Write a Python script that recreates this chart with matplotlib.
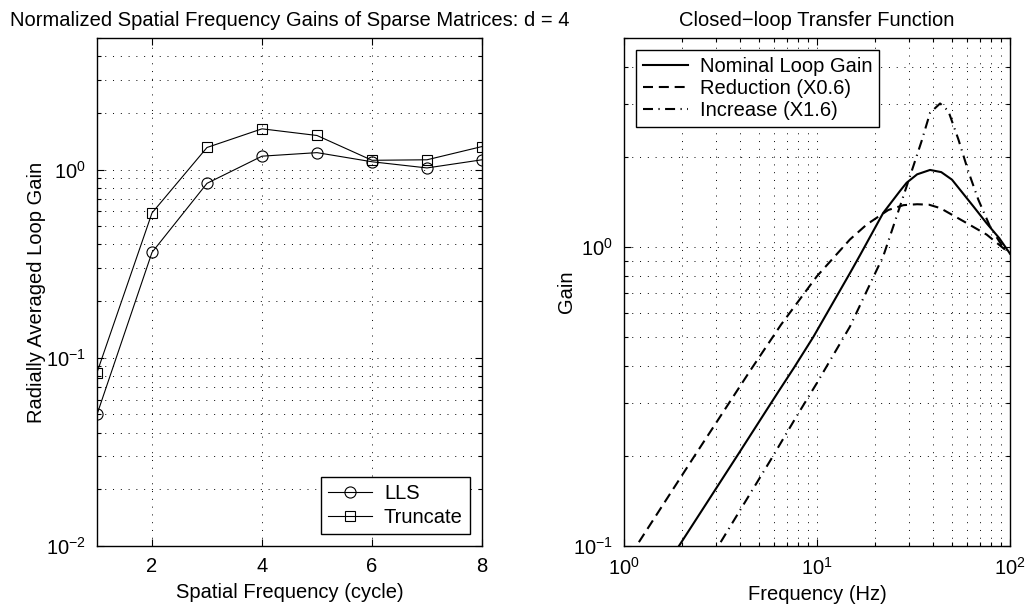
import numpy as np
import matplotlib
matplotlib.use("Agg")
import matplotlib.pyplot as plt
from matplotlib.ticker import LogLocator, NullFormatter, FixedLocator

plt.rcParams['font.family'] = ['Liberation Sans', 'DejaVu Sans']
plt.rcParams['mathtext.fontset'] = 'custom'
plt.rcParams['mathtext.rm'] = 'Liberation Sans'
plt.rcParams['mathtext.it'] = 'Liberation Sans:italic'
FS = 14.5
plt.rcParams['font.size'] = FS

# ---- Left panel data ----
spatial_freq = [1, 2, 3, 4, 5, 6, 7, 8]
lls_gain = [0.050, 0.363, 0.845, 1.178, 1.23, 1.10, 1.02, 1.127]
truncate_gain = [0.0835, 0.588, 1.31, 1.646, 1.517, 1.12, 1.127, 1.325]

# ---- Right panel data ----
nom_freq = [1.92, 3.94, 6.29, 7.59, 9.55, 14.8, 16.7, 22.0, 26.9, 29.1, 33.0,
            38.5, 44.0, 50.0, 55.0, 65.0, 75.7, 88.0, 100.0]
nom_gain = [0.100, 0.205, 0.328, 0.395, 0.50, 0.818, 0.94, 1.30, 1.54, 1.64, 1.75,
            1.81, 1.78, 1.68, 1.556, 1.36, 1.20, 1.07, 0.95]

red_freq = [1.19, 2.30, 4.52, 6.5, 9.95, 14.8, 18.1, 23.4, 28.0, 33.0, 38.0,
            43.4, 57.3, 75.7, 100.0]
red_gain = [0.103, 0.199, 0.388, 0.55, 0.797, 1.06, 1.19, 1.33, 1.38, 1.39, 1.385,
            1.35, 1.22, 1.10, 0.95]

inc_freq = [3.16, 5.74, 7.89, 9.95, 14.8, 20.4, 22.0, 24.8, 28.0, 31.5, 34.8,
            38.5, 43.4, 47.9, 54.0, 60.8, 68.5, 78.8, 90.0, 100.0]
inc_gain = [0.103, 0.194, 0.274, 0.350, 0.542, 0.84, 0.93, 1.17, 1.48, 1.86, 2.26,
            2.81, 3.02, 2.85, 2.29, 1.79, 1.44, 1.17, 1.02, 0.95]

fig = plt.figure(figsize=(10.26, 6.10), dpi=100)
W, H = 1026, 610
ax1 = fig.add_axes([97 / W, 1 - 546 / H, (482 - 97) / W, (546 - 38) / H])
ax2 = fig.add_axes([624.3 / W, 1 - 546 / H, (1010 - 624.3) / W, (546 - 38) / H])

grid_kw = dict(color='black', linestyle=(0, (1, 7)), linewidth=0.7)

def style(ax):
    ax.tick_params(which='both', direction='in', top=True, right=True,
                   width=0.8, colors='black')
    ax.tick_params(which='major', length=5, labelsize=FS, pad=8)
    ax.tick_params(which='minor', length=3)
    for s in ax.spines.values():
        s.set_linewidth(1.0)
        s.set_color('black')

# Left panel
ax1.plot(spatial_freq, lls_gain, color='black', lw=0.8, marker='o', ms=8,
         mfc='none', mec='black', mew=0.8, label='LLS')
ax1.plot(spatial_freq, truncate_gain, color='black', lw=0.8, marker='s', ms=6.5,
         mfc='none', mec='black', mew=0.8, label='Truncate')
ax1.set_yscale('log')
ax1.set_xlim(1, 8)
ax1.set_ylim(0.01, 5)
ax1.xaxis.set_major_locator(FixedLocator([2, 4, 6, 8]))
ax1.yaxis.set_major_locator(LogLocator(base=10, numticks=10))
ax1.yaxis.set_minor_locator(LogLocator(base=10, subs=np.arange(2, 10), numticks=10))
ax1.yaxis.set_minor_formatter(NullFormatter())
ax1.grid(True, which='both', **grid_kw)
ax1.set_axisbelow(True)
style(ax1)
ax1.set_xlabel('Spatial Frequency (cycle)', fontsize=FS, labelpad=5)
ax1.set_ylabel('Radially Averaged Loop Gain', fontsize=FS, labelpad=0)
ax1.set_title('Normalized Spatial Frequency Gains of Sparse Matrices: d = 4',
              fontsize=FS, pad=9)
leg1 = ax1.legend(loc='lower right', numpoints=1, fancybox=False, framealpha=1,
                  edgecolor='black', fontsize=FS, handlelength=2.2,
                  borderaxespad=0.6, labelspacing=0.25, handletextpad=0.6,
                  borderpad=0.35)
leg1.get_frame().set_linewidth(1.0)

# Right panel
ax2.plot(nom_freq, nom_gain, color='black', lw=1.5, label='Nominal Loop Gain')
ax2.plot(red_freq, red_gain, color='black', lw=1.5, dashes=(4.8, 2.8),
         label='Reduction (X0.6)')
ax2.plot(inc_freq, inc_gain, color='black', lw=1.5, dashes=(4.8, 2.6, 0.6, 2.6),
         label='Increase (X1.6)')
ax2.set_xscale('log')
ax2.set_yscale('log')
ax2.set_xlim(1, 100)
ax2.set_ylim(0.1, 5)
for axis in (ax2.xaxis, ax2.yaxis):
    axis.set_major_locator(LogLocator(base=10, numticks=10))
    axis.set_minor_locator(LogLocator(base=10, subs=np.arange(2, 10), numticks=10))
    axis.set_minor_formatter(NullFormatter())
ax2.grid(True, which='both', **grid_kw)
ax2.set_axisbelow(True)
style(ax2)
ax2.set_xlabel('Frequency (Hz)', fontsize=FS, labelpad=4)
ax2.set_ylabel('Gain', fontsize=FS, labelpad=-2)
ax2.set_title('Closed\u2212loop Transfer Function', fontsize=FS, pad=9)
leg2 = ax2.legend(loc='upper left', fancybox=False, framealpha=1,
                  edgecolor='black', fontsize=FS, handlelength=2.2,
                  borderaxespad=0.6, labelspacing=0.15, handletextpad=0.6,
                  borderpad=0.35)
leg2.get_frame().set_linewidth(1.0)

fig.savefig('out.png', dpi=100)
